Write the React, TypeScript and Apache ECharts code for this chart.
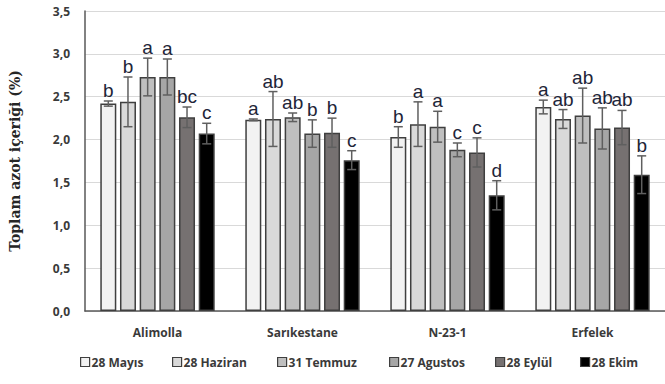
import React, { useEffect, useRef } from "react";
import * as echarts from "echarts";

const categories = ["Alimolla", "Sarıkestane", "N-23-1", "Erfelek"];
const seriesNames = ["28 Mayıs", "28 Haziran", "31 Temmuz", "27 Agustos", "28 Eylül", "28 Ekim"];
const seriesColors = ["#f2f2f2", "#d9d9d9", "#bfbfbf", "#a6a6a6", "#767171", "#000000"];

// values per series (rows) for each category (columns)
const values = [
  [2.42, 2.23, 2.03, 2.38],
  [2.44, 2.24, 2.18, 2.24],
  [2.73, 2.26, 2.15, 2.28],
  [2.73, 2.07, 1.88, 2.13],
  [2.26, 2.08, 1.85, 2.14],
  [2.07, 1.76, 1.35, 1.59],
];
const errors = [
  [0.03, 0.01, 0.12, 0.08],
  [0.29, 0.32, 0.26, 0.11],
  [0.22, 0.05, 0.18, 0.32],
  [0.21, 0.16, 0.08, 0.24],
  [0.12, 0.17, 0.17, 0.20],
  [0.12, 0.11, 0.17, 0.22],
];
const letters = [
  ["b", "a", "b", "a"],
  ["b", "ab", "a", "ab"],
  ["a", "ab", "a", "ab"],
  ["a", "b", "c", "ab"],
  ["bc", "b", "c", "ab"],
  ["c", "c", "d", "b"],
];
const yTicks = ["0,0", "0,5", "1,0", "1,5", "2,0", "2,5", "3,0", "3,5"];
const legendLefts = [80, 172, 277, 389, 495, 580];

const BAR_W = 16;
const BAR_GAP = 0.23;

export default function App() {
  const ref = useRef<HTMLDivElement>(null);
  useEffect(() => {
    if (!ref.current) return;
    const chart = echarts.init(ref.current, undefined, { renderer: "svg" });
    const step = BAR_W * (1 + BAR_GAP);
    const n = seriesNames.length;

    const barSeries = seriesNames.map((name, i) => ({
      name,
      type: "bar",
      data: values[i],
      barWidth: BAR_W,
      barGap: BAR_GAP * 100 + "%",
      itemStyle: { color: seriesColors[i], borderColor: "#3f3f3f", borderWidth: 1.5 },
      z: 2,
    }));

    const errSeries = seriesNames.map((name, i) => ({
      name: name + "_err",
      type: "custom",
      z: 5,
      data: values[i].map((v, c) => [c, v, errors[i][c]]),
      encode: { x: 0, y: 1 },
      renderItem: (params: any, api: any) => {
        const c = api.value(0);
        const v = api.value(1);
        const e = api.value(2);
        const letter = letters[i][params.dataIndex];
        const base = api.coord([c, v]);
        const x = base[0] + (i - (n - 1) / 2) * step;
        const top = api.coord([c, v + e])[1];
        const bot = api.coord([c, v - e])[1];
        const cap = 4.5;
        const st = { stroke: "#5f5f5f", lineWidth: 1.5 };
        return {
          type: "group",
          children: [
            { type: "line", shape: { x1: x, y1: top, x2: x, y2: bot }, style: st },
            { type: "line", shape: { x1: x - cap, y1: top, x2: x + cap, y2: top }, style: st },
            { type: "line", shape: { x1: x - cap, y1: bot, x2: x + cap, y2: bot }, style: st },
            {
              type: "text",
              style: {
                x,
                y: top - 1,
                text: letter,
                align: "center",
                verticalAlign: "bottom",
                fill: "#1e2538",
                font: "19px 'Liberation Sans', Arial, sans-serif",
              },
            },
          ],
        };
      },
    }));

    const legends = seriesNames.map((name, i) => ({
      data: [name],
      left: legendLefts[i],
      top: 356,
      icon: "rect",
      itemWidth: 9,
      itemHeight: 9,
      padding: 0,
      selectedMode: false,
      textStyle: { fontFamily: "Open Sans", fontWeight: "bold", fontSize: 12, color: "#3a3a3a", padding: [0, 0, 0, -3] },
      itemStyle: { borderColor: "#3f3f3f", borderWidth: 1.2 },
    }));

    chart.setOption({
      animation: false,
      backgroundColor: "#ffffff",
      grid: { left: 79, right: -8, top: 11, bottom: 73, containLabel: false },
      legend: legends,
      xAxis: {
        type: "category",
        data: categories,
        axisLine: { lineStyle: { color: "#595959", width: 1.5 } },
        axisTick: { show: false },
        axisLabel: { margin: 15, fontFamily: "Open Sans", fontWeight: "bold", fontSize: 12, color: "#3a3a3a" },
      },
      yAxis: {
        type: "value",
        min: 0,
        max: 3.5,
        interval: 0.5,
        name: "Toplam azot içeriği (%)",
        nameLocation: "middle",
        nameGap: 63,
        nameTextStyle: { fontFamily: "'DejaVu Serif', serif", fontWeight: "bold", fontSize: 14, color: "#262626" },
        axisLine: { show: true, lineStyle: { color: "#595959", width: 1.5 } },
        axisTick: { show: false },
        splitLine: { lineStyle: { color: "#d9d9d9", width: 1 } },
        axisLabel: {
          margin: 15,
          fontFamily: "Open Sans",
          fontWeight: "bold",
          fontSize: 12,
          color: "#3a3a3a",
          formatter: (val: number) => yTicks[Math.round(val / 0.5)] ?? "",
        },
      },
      series: [...barSeries, ...errSeries],
    });
    return () => chart.dispose();
  }, []);
  return <div ref={ref} style={{ width: 665, height: 384, position: "absolute", left: 0, top: 0 }} />;
}
